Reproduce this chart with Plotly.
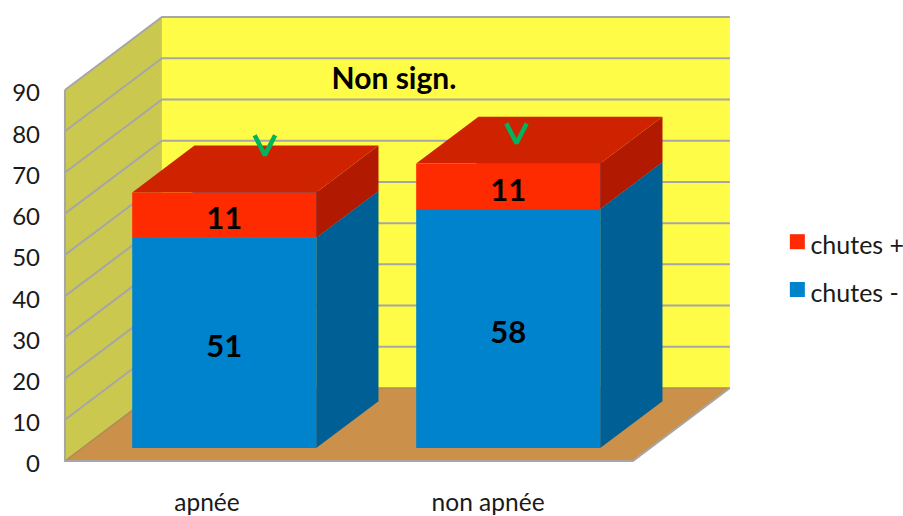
import plotly.graph_objects as go

# ---- data ----
categories = ["apnée", "non apnée"]
category_ticks = [0, 0.99]
chutes_moins = [51, 58]
chutes_plus = [11, 11]
y_ticks = [0, 10, 20, 30, 40, 50, 60, 70, 80, 90]
check_x = [0.204, 1.09]          # green marks, category units
check_y = [74.2, 77.1]           # green marks, value units
key_names = ["chutes +", "chutes -"]
key_colors = ["#FF2B00", "#0083CD"]
key_y = [53.2, 41.6]

# ---- oblique projection ----
DX = 0.3415     # category units shifted over the full depth
DY = 17.7       # value units shifted over the full depth
BAR_HALF = 0.324
BAR_FRONT, BAR_BACK = 0.178, 0.82
Y_MAX = 90

def pt(x, v, d=0.0):
    return x + DX * d, v + DY * d

def poly(points, color):
    xs, ys = zip(*[pt(*p) for p in points])
    return go.Scatter(x=list(xs) + [xs[0]], y=list(ys) + [ys[0]], mode="lines",
                      fill="toself", fillcolor=color, line=dict(width=0),
                      showlegend=False, hoverinfo="skip")

def line(points, color="#A6A6A6", width=2):
    xs, ys = zip(*[pt(*p) for p in points])
    return go.Scatter(x=xs, y=ys, mode="lines", line=dict(color=color, width=width),
                      showlegend=False, hoverinfo="skip")

L, R = -0.5, 1.5
fig = go.Figure()

# walls and floor
fig.add_trace(poly([(L, 0, 1), (R, 0, 1), (R, Y_MAX, 1), (L, Y_MAX, 1)], "#FFFC47"))
fig.add_trace(poly([(L, 0, 0), (L, 0, 1), (L, Y_MAX, 1), (L, Y_MAX, 0)], "#CBC84F"))
fig.add_trace(poly([(L, 0, 0), (R, 0, 0), (R, 0, 1), (L, 0, 1)], "#CB904A"))
for t in y_ticks:
    if t == 0:
        fig.add_trace(line([(L, 0, 0), (L, 0, 1), (R, 0, 1)], "#B08A55", 1.5))
    else:
        fig.add_trace(line([(L, t, 0), (L, t, 1), (R, t, 1)]))
fig.add_trace(line([(L, Y_MAX, 0), (L, 0, 0), (R, 0, 0), (R, 0, 1)]))

# bars
def box(i, lo, hi, front, top, side):
    a, b = i - BAR_HALF, i + BAR_HALF
    f, k = BAR_FRONT, BAR_BACK
    fig.add_trace(poly([(b, lo, f), (b, lo, k), (b, hi, k), (b, hi, f)], side))
    fig.add_trace(poly([(a, hi, f), (b, hi, f), (b, hi, k), (a, hi, k)], top))
    fig.add_trace(poly([(a, lo, f), (b, lo, f), (b, hi, f), (a, hi, f)], front))

for i in range(len(categories)):
    lo, hi = chutes_moins[i], chutes_moins[i] + chutes_plus[i]
    box(i, 0, lo, "#0083CD", "#0083CD", "#005F94")
    box(i, lo, hi, "#FF2B00", "#CF2200", "#B11A00")

# value labels
lx, ly, lt = [], [], []
for i in range(len(categories)):
    lo, hi = chutes_moins[i], chutes_moins[i] + chutes_plus[i]
    for a, b, val in ((0, lo, chutes_moins[i]), (lo, hi, chutes_plus[i])):
        x, y = pt(i, (a + b) / 2 - 1.6, BAR_FRONT)
        lx.append(x); ly.append(y); lt.append(str(val))
fig.add_trace(go.Scatter(x=lx, y=ly, text=lt, mode="text", showlegend=False, hoverinfo="skip",
                         textfont=dict(family="Lato", size=31, color="black", weight=700)))

# green marks
for cx, cy in zip(check_x, check_y):
    fig.add_trace(go.Scatter(x=[cx - 0.036, cx, cx + 0.036], y=[cy + 4.8, cy, cy + 4.8],
                             mode="lines", line=dict(color="#00B35C", width=4.5),
                             showlegend=False, hoverinfo="skip"))

# key at the right of the chart
fig.add_trace(go.Scatter(x=[2.079] * len(key_y), y=key_y, mode="markers",
                         showlegend=False, hoverinfo="skip",
                         marker=dict(symbol="square", size=15, color=key_colors)))
fig.add_trace(go.Scatter(x=[2.125] * len(key_y), y=[v - 1.4 for v in key_y], text=key_names, mode="text",
                         textposition="middle right", cliponaxis=False, showlegend=False,
                         hoverinfo="skip",
                         textfont=dict(family="Lato", size=25, color="#1a1a1a")))

fig.update_layout(
    width=903, height=516, autosize=False, showlegend=False,
    margin=dict(l=55, r=0, t=10, b=46, autoexpand=False),
    paper_bgcolor="white", plot_bgcolor="rgba(0,0,0,0)",
    font=dict(family="Lato", size=24, color="#1a1a1a"),
    title=dict(text="<b>Non sign.</b>", x=394 / 903, y=1 - 78 / 516, xanchor="center", yanchor="middle",
               font=dict(family="Lato", size=30, color="black")),
    xaxis=dict(range=[-0.535, 2.451], tickvals=category_ticks, ticktext=categories,
               showgrid=False, zeroline=False, showline=False, ticks="", ticklabelstandoff=15,
               tickfont=dict(family="Lato", size=24.5)),
    yaxis=dict(range=[-2.18, 109.4], tickvals=y_ticks, showgrid=False, zeroline=False,
               showline=False, ticks="", ticklabelstandoff=14, ticklabelshift=3,
               tickfont=dict(family="Lato", size=24)),
)
fig.write_html("out.html", config={"displayModeBar": False},
               post_script="document.body.style.margin='0';document.documentElement.style.overflow='hidden';")
